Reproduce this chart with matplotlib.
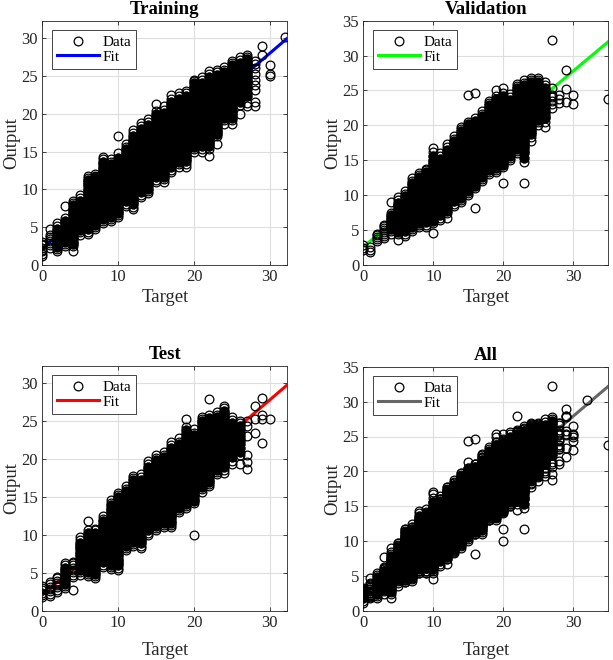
import numpy as np
import matplotlib
matplotlib.use('Agg')
import matplotlib.pyplot as plt

plt.rcParams['font.family'] = ['Liberation Serif', 'DejaVu Serif']

# network outputs for every integer target (list index = target value)
train_out = [
    "1.2 1.5 1.8 2.0 2.3 2.6 2.8 3.1",
    "2.3 2.6 2.9 3.2 3.4 3.7 4.0 4.7",
    "1.8 2.1 2.4 2.7 3.0 3.3 3.6 3.9 4.2 4.5 4.8 5.1 5.5",
    "2.5 2.8 3.1 3.4 3.7 4.0 4.3 4.6 4.9 5.2 5.5 5.8 6.2 7.8",
    "1.9 2.5 2.8 3.1 3.4 3.7 4.0 4.3 4.6 4.9 5.2 5.5 5.8 6.1 6.4 6.7 7.0 7.3 7.6 7.9 8.2 8.5",
    "4.0 4.3 4.6 4.9 5.2 5.5 5.8 6.1 6.4 6.7 7.0 7.3 7.6 7.9 8.2 8.5 8.8 9.2",
    "4.1 4.4 4.7 5.0 5.3 5.6 5.9 6.2 6.5 6.8 7.1 7.4 7.7 8.0 8.3 8.6 8.9 9.2 9.5 9.8 10.1 10.4 10.7 11.0 11.3 11.5 11.8",
    "4.7 5.0 5.3 5.6 5.9 6.2 6.5 6.8 7.1 7.4 7.7 8.0 8.3 8.6 8.9 9.2 9.5 9.8 10.1 10.4 10.7 11.0 11.3 11.6 11.8 12.0",
    "5.5 5.8 6.1 6.4 6.7 7.0 7.3 7.6 7.9 8.2 8.5 8.8 9.1 9.4 9.7 10.0 10.3 10.6 10.9 11.2 11.5 11.8 12.1 12.4 12.7 13.0 13.3 13.6 14.0 14.3",
    "5.8 6.1 6.4 6.7 7.0 7.3 7.6 7.9 8.2 8.5 8.8 9.1 9.4 9.7 10.0 10.3 10.6 10.9 11.2 11.5 11.8 12.1 12.4 12.7 13.0 13.3 13.6 14.0",
    "6.3 6.6 6.9 7.2 7.5 7.8 8.1 8.4 8.7 9.0 9.3 9.6 9.9 10.2 10.5 10.8 11.1 11.4 11.7 12.0 12.3 12.6 12.9 13.2 13.5 13.8 14.1 14.8 17.0",
    "7.8 8.1 8.4 8.7 9.0 9.3 9.6 9.9 10.2 10.5 10.8 11.1 11.4 11.7 12.0 12.3 12.6 12.9 13.2 13.5 13.8 14.1 14.4 14.7 15.0 15.3 15.6 16.0",
    "7.4 7.7 8.0 8.3 8.6 8.9 9.2 9.5 9.8 10.1 10.4 10.7 11.0 11.3 11.6 11.9 12.2 12.5 12.8 13.1 13.4 13.7 14.0 14.3 14.6 14.9 15.2 15.5 15.8 16.1 16.4 16.7 17.0 17.4 17.8",
    "9.0 9.3 9.6 9.9 10.2 10.5 10.8 11.1 11.4 11.7 12.0 12.3 12.6 12.9 13.2 13.5 13.8 14.1 14.4 14.7 15.0 15.3 15.6 15.9 16.2 16.5 16.8 17.1 17.4 17.7 18.0 18.4 18.8",
    "9.5 9.8 10.1 10.4 10.7 11.0 11.3 11.6 11.9 12.2 12.5 12.8 13.1 13.4 13.7 14.0 14.3 14.6 14.9 15.2 15.5 15.8 16.1 16.4 16.7 17.0 17.3 17.6 17.9 18.2 18.5 18.9 19.3",
    "11.0 11.3 11.6 11.9 12.2 12.5 12.8 13.1 13.4 13.7 14.0 14.3 14.6 14.9 15.2 15.5 15.8 16.1 16.4 16.7 17.0 17.3 17.6 17.9 18.2 18.5 18.8 19.1 19.4 19.7 20.0 20.4 21.3",
    "11.0 11.4 11.7 12.0 12.3 12.6 12.9 13.2 13.5 13.8 14.1 14.4 14.7 15.0 15.3 15.6 15.9 16.2 16.5 16.8 17.1 17.4 17.7 18.0 18.3 18.6 18.9 19.2 19.5 19.8 20.1 20.5 21.0",
    "12.3 12.6 12.9 13.2 13.5 13.8 14.1 14.4 14.7 15.0 15.3 15.6 15.9 16.2 16.5 16.8 17.1 17.4 17.7 18.0 18.3 18.6 18.9 19.2 19.5 19.8 20.1 20.4 20.7 21.0 21.3 21.6 22.0 22.5",
    "13.0 13.3 13.6 13.9 14.2 14.5 14.8 15.1 15.4 15.7 16.0 16.3 16.6 16.9 17.2 17.5 17.8 18.1 18.4 18.7 19.0 19.3 19.6 19.9 20.2 20.5 20.8 21.1 21.4 21.7 22.0 22.4 22.8",
    "13.0 13.4 13.7 14.0 14.3 14.6 14.9 15.2 15.5 15.8 16.1 16.4 16.7 17.0 17.3 17.6 17.9 18.2 18.5 18.8 19.1 19.4 19.7 20.0 20.3 20.6 20.9 21.2 21.5 21.8 22.1 22.4 22.7 23.0",
    "15.0 15.3 15.6 15.9 16.2 16.5 16.8 17.1 17.4 17.7 18.0 18.3 18.6 18.9 19.2 19.5 19.8 20.1 20.4 20.7 21.0 21.3 21.6 21.9 22.2 22.5 22.8 23.1 23.4 23.7 24.0 24.3 24.5",
    "15.0 15.4 15.7 16.0 16.3 16.6 16.9 17.2 17.5 17.8 18.1 18.4 18.7 19.0 19.3 19.6 19.9 20.2 20.5 20.8 21.1 21.4 21.7 22.0 22.3 22.6 22.9 23.2 23.5 23.8 24.1 24.5 24.8",
    "14.4 15.3 15.7 16.0 16.3 16.6 16.9 17.2 17.5 17.8 18.1 18.4 18.7 19.0 19.3 19.6 19.9 20.2 20.5 20.8 21.1 21.4 21.7 22.0 22.3 22.6 22.9 23.2 23.5 23.8 24.1 24.4 24.8 25.2 25.6",
    "16.0 17.0 17.3 17.6 17.9 18.2 18.5 18.8 19.1 19.4 19.7 20.0 20.3 20.6 20.9 21.2 21.5 21.8 22.1 22.4 22.7 23.0 23.3 23.6 23.9 24.2 24.5 24.8 25.1 25.5 25.8",
    "18.7 19.2 19.5 19.8 20.1 20.4 20.7 21.0 21.3 21.6 21.9 22.2 22.5 22.8 23.1 23.4 23.7 24.0 24.3 24.6 24.9 25.2 25.5 25.8 26.2",
    "18.6 19.2 19.5 19.8 20.1 20.4 20.7 21.0 21.3 21.6 21.9 22.2 22.5 22.8 23.1 23.4 23.7 24.0 24.3 24.6 24.9 25.2 25.5 25.8 26.1 26.4 26.7 27.0",
    "20.0 21.2 21.6 21.9 22.2 22.5 22.8 23.1 23.4 23.7 24.0 24.3 24.6 24.9 25.2 25.5 25.8 26.1 26.4 26.7 27.1 27.5",
    "21.0 21.4 22.3 22.8 23.3 23.6 23.9 24.2 24.5 24.8 25.1 25.4 25.7 26.0 26.3 26.6 26.9 27.2 27.5 27.8",
    "21.0 21.5 23.2 23.8 24.5 25.2 26.0 26.6 27.0",
    "27.8 29.0",
    "25.0 25.2 26.5",
    "",
    "30.2",
]

val_out = [
    "2.2 2.5 2.9",
    "1.8 2.2 2.6",
    "3.4 3.7 4.0 4.3 4.5",
    "3.8 4.1 4.4 4.7 5.0 5.3 5.6 5.8",
    "4.5 4.8 5.1 5.4 5.7 6.0 6.3 6.6 6.9 7.2 7.5 9.0",
    "3.6 4.4 4.7 5.0 5.3 5.6 5.9 6.2 6.5 6.8 7.1 7.4 7.7 8.0 8.3 8.6 8.9 9.3 9.8",
    "4.2 4.5 4.8 5.1 5.4 5.7 6.0 6.3 6.6 6.9 7.2 7.5 7.8 8.1 8.4 8.7 9.0 9.3 9.6 9.9 10.2 10.6",
    "4.8 5.1 5.4 5.7 6.0 6.3 6.6 6.9 7.2 7.5 7.8 8.1 8.4 8.7 9.0 9.3 9.6 9.9 10.2 10.5 10.8 11.1 11.4 11.7 12.0 12.5",
    "5.4 5.7 6.0 6.3 6.6 6.9 7.2 7.5 7.8 8.1 8.4 8.7 9.0 9.3 9.6 9.9 10.2 10.5 10.8 11.1 11.4 11.7 12.0 12.3 12.6 12.9 13.2",
    "5.5 5.8 6.1 6.4 6.7 7.0 7.3 7.6 7.9 8.2 8.5 8.8 9.1 9.4 9.7 10.0 10.3 10.6 10.9 11.2 11.5 11.8 12.1 12.4 12.7 13.0 13.3 13.6 13.8",
    "4.6 6.0 6.3 6.6 6.9 7.2 7.5 7.8 8.1 8.4 8.7 9.0 9.3 9.6 9.9 10.2 10.5 10.8 11.1 11.4 11.7 12.0 12.3 12.6 12.9 13.2 13.5 13.8 14.1 14.4 14.7 15.0 15.6 16.2 16.8",
    "6.5 6.8 7.1 7.4 7.7 8.0 8.3 8.6 8.9 9.2 9.5 9.8 10.1 10.4 10.7 11.0 11.3 11.6 11.9 12.2 12.5 12.8 13.1 13.4 13.7 14.0 14.3 14.6 14.9 15.2 15.6 16.0",
    "6.8 7.5 7.8 8.1 8.4 8.7 9.0 9.3 9.6 9.9 10.2 10.5 10.8 11.1 11.4 11.7 12.0 12.3 12.6 12.9 13.2 13.5 13.8 14.1 14.4 14.7 15.0 15.3 15.6 15.9 16.2 16.5 16.9 17.3",
    "8.5 8.8 9.1 9.4 9.7 10.0 10.3 10.6 10.9 11.2 11.5 11.8 12.1 12.4 12.7 13.0 13.3 13.6 13.9 14.2 14.5 14.8 15.1 15.4 15.7 16.0 16.3 16.6 16.9 17.2 17.5 17.8 18.1 18.5",
    "9.0 9.3 9.6 9.9 10.2 10.5 10.8 11.1 11.4 11.7 12.0 12.3 12.6 12.9 13.2 13.5 13.8 14.1 14.4 14.7 15.0 15.3 15.6 15.9 16.2 16.5 16.8 17.1 17.4 17.7 18.0 18.3 18.6 18.9 19.2 19.5 19.8",
    "10.0 10.3 10.6 10.9 11.2 11.5 11.8 12.1 12.4 12.7 13.0 13.3 13.6 13.9 14.2 14.5 14.8 15.1 15.4 15.7 16.0 16.3 16.6 16.9 17.2 17.5 17.8 18.1 18.4 18.7 19.0 19.3 19.6 19.9 20.2 20.5 24.3",
    "8.2 11.0 11.3 11.6 11.9 12.2 12.5 12.8 13.1 13.4 13.7 14.0 14.3 14.6 14.9 15.2 15.5 15.8 16.1 16.4 16.7 17.0 17.3 17.6 17.9 18.2 18.5 18.8 19.1 19.4 19.7 20.0 20.3 20.6 21.0 24.6",
    "12.0 12.3 12.6 12.9 13.2 13.5 13.8 14.1 14.4 14.7 15.0 15.3 15.6 15.9 16.2 16.5 16.8 17.1 17.4 17.7 18.0 18.3 18.6 18.9 19.2 19.5 19.8 20.1 20.4 20.7 21.0 21.3 21.6 22.0",
    "13.0 13.3 13.6 13.9 14.2 14.5 14.8 15.1 15.4 15.7 16.0 16.3 16.6 16.9 17.2 17.5 17.8 18.1 18.4 18.7 19.0 19.3 19.6 19.9 20.2 20.5 20.8 21.1 21.4 21.7 22.0 22.3 22.6 22.9 23.2 23.5",
    "13.3 13.6 13.9 14.2 14.5 14.8 15.1 15.4 15.7 16.0 16.3 16.6 16.9 17.2 17.5 17.8 18.1 18.4 18.7 19.0 19.3 19.6 19.9 20.2 20.5 20.8 21.1 21.4 21.7 22.0 22.3 22.6 22.9 23.2 23.5 23.8 24.2 25.0",
    "11.7 14.0 14.3 14.6 14.9 15.2 15.5 15.8 16.1 16.4 16.7 17.0 17.3 17.6 17.9 18.2 18.5 18.8 19.1 19.4 19.7 20.0 20.3 20.6 20.9 21.2 21.5 21.8 22.1 22.4 22.7 23.0 23.3 23.6 23.9 24.2 24.6 25.4",
    "15.0 15.3 15.6 15.9 16.2 16.5 16.8 17.1 17.4 17.7 18.0 18.3 18.6 18.9 19.2 19.5 19.8 20.1 20.4 20.7 21.0 21.3 21.6 21.9 22.2 22.5 22.8 23.1 23.4 23.7 24.0 24.5",
    "16.0 16.3 16.6 16.9 17.2 17.5 17.8 18.1 18.4 18.7 19.0 19.3 19.6 19.9 20.2 20.5 20.8 21.1 21.4 21.7 22.0 22.3 22.6 22.9 23.2 23.5 23.8 24.1 24.4 24.7 25.0 25.3 25.6 26.0",
    "11.8 14.7 15.3 16.0 16.4 16.7 17.0 17.3 17.6 17.9 18.2 18.5 18.8 19.1 19.4 19.7 20.0 20.3 20.6 20.9 21.2 21.5 21.8 22.1 22.4 22.7 23.0 23.3 23.6 23.9 24.2 24.5 24.8 25.1 25.4 25.8 26.1 26.5",
    "17.8 18.3 18.7 19.0 19.3 19.6 19.9 20.2 20.5 20.8 21.1 21.4 21.7 22.0 22.3 22.6 22.9 23.2 23.5 23.8 24.1 24.4 24.7 25.0 25.3 25.6 25.9 26.2 26.5 26.8",
    "20.0 20.5 20.8 21.1 21.4 21.7 22.0 22.3 22.6 22.9 23.2 23.5 23.8 24.1 24.4 24.7 25.0 25.3 25.6 25.9 26.2 26.5 26.8",
    "19.8 20.5 21.0 21.4 21.8 22.2 22.6 23.0 23.4 23.8 24.2 24.6 25.0 25.4 25.8 26.2",
    "22.5 23.0 23.5 24.0 24.4 25.3 32.3",
    "23.2 23.8 24.3",
    "23.4 25.2 27.9",
    "23.0 24.3",
    "", "", "", "",
    "23.8",
]

test_out = [
    "1.8 2.1 2.4 2.7 3.0 3.3",
    "2.0 2.3 2.6 2.9 3.2 3.5 3.8",
    "2.5 2.8 3.1 3.4 3.7 4.0 4.3 4.5",
    "3.0 3.3 3.6 3.9 4.2 4.5 4.8 5.1 5.4 5.7 6.0 6.3",
    "2.7 4.5 4.8 5.1 5.4 5.7 6.0 6.3 6.5",
    "4.8 5.1 5.4 5.7 6.0 6.3 6.6 6.9 7.2 7.5 7.8 8.1 8.4 8.7 9.0 9.4 9.8",
    "4.6 4.9 5.2 5.5 5.8 6.1 6.4 6.7 7.0 7.3 7.6 7.9 8.2 8.5 8.8 9.1 9.4 9.7 10.0 10.3 10.6 11.8",
    "4.3 4.6 4.9 5.2 5.5 5.8 6.1 6.4 6.7 7.0 7.3 7.6 7.9 8.2 8.5 8.8 9.1 9.4 9.7 10.0 10.3 10.6 10.8",
    "5.8 6.1 6.4 6.7 7.0 7.3 7.6 7.9 8.2 8.5 8.8 9.1 9.4 9.7 10.0 10.3 10.6 10.9 11.2 11.5 11.8 12.1 12.5",
    "5.5 5.8 6.1 6.4 6.7 7.0 7.3 7.6 7.9 8.2 8.5 8.8 9.1 9.4 9.7 10.0 10.3 10.6 10.9 11.2 11.5 11.8 12.1 12.4 12.7 13.0 13.3 13.6 13.9 14.2 14.6",
    "5.4 5.7 6.0 6.3 6.6 6.9 7.2 7.5 7.8 8.1 8.4 8.7 9.0 9.3 9.6 9.9 10.2 10.5 10.8 11.1 11.4 11.7 12.0 12.3 12.6 12.9 13.2 13.5 13.8 14.1 14.4 14.7 15.0 15.3 15.6",
    "8.0 8.3 8.6 8.9 9.2 9.5 9.8 10.1 10.4 10.7 11.0 11.3 11.6 11.9 12.2 12.5 12.8 13.1 13.4 13.7 14.0 14.3 14.6 14.9 15.2 15.5 15.8 16.1 16.5",
    "8.5 8.8 9.1 9.4 9.7 10.0 10.3 10.6 10.9 11.2 11.5 11.8 12.1 12.4 12.7 13.0 13.3 13.6 13.9 14.2 14.5 14.8 15.1 15.4 15.7 16.0 16.3 16.6 16.9 17.2 17.5 17.8",
    "8.3 8.6 8.9 9.2 9.5 9.8 10.1 10.4 10.7 11.0 11.3 11.6 11.9 12.2 12.5 12.8 13.1 13.4 13.7 14.0 14.3 14.6 14.9 15.2 15.5 15.8 16.1 16.4 16.7 17.0 17.3 17.6 18.0",
    "10.0 10.3 10.6 10.9 11.2 11.5 11.8 12.1 12.4 12.7 13.0 13.3 13.6 13.9 14.2 14.5 14.8 15.1 15.4 15.7 16.0 16.3 16.6 16.9 17.2 17.5 17.8 18.1 18.4 18.7 19.0 19.4 19.8",
    "10.6 10.9 11.2 11.5 11.8 12.1 12.4 12.7 13.0 13.3 13.6 13.9 14.2 14.5 14.8 15.1 15.4 15.7 16.0 16.3 16.6 16.9 17.2 17.5 17.8 18.1 18.4 18.7 19.0 19.3 19.6 19.9 20.2 20.5",
    "11.0 11.3 11.6 11.9 12.2 12.5 12.8 13.1 13.4 13.7 14.0 14.3 14.6 14.9 15.2 15.5 15.8 16.1 16.4 16.7 17.0 17.3 17.6 17.9 18.2 18.5 18.8 19.1 19.4 19.7 20.0 20.3 20.6 21.0",
    "11.0 11.3 11.6 11.9 12.2 12.5 12.8 13.1 13.4 13.7 14.0 14.3 14.6 14.9 15.2 15.5 15.8 16.1 16.4 16.7 17.0 17.3 17.6 17.9 18.2 18.5 18.8 19.1 19.4 19.7 20.0 20.3 20.6 20.9 21.2 21.5 21.9 22.3",
    "13.0 13.3 13.6 13.9 14.2 14.5 14.8 15.1 15.4 15.7 16.0 16.3 16.6 16.9 17.2 17.5 17.8 18.1 18.4 18.7 19.0 19.3 19.6 19.9 20.2 20.5 20.8 21.1 21.4 21.7 22.0 22.3 22.8",
    "13.5 13.8 14.1 14.4 14.7 15.0 15.3 15.6 15.9 16.2 16.5 16.8 17.1 17.4 17.7 18.0 18.3 18.6 18.9 19.2 19.5 19.8 20.1 20.4 20.7 21.0 21.3 21.6 21.9 22.2 22.5 22.8 23.1 23.4 23.8 24.2 25.3",
    "10.0 14.2 14.5 14.8 15.1 15.4 15.7 16.0 16.3 16.6 16.9 17.2 17.5 17.8 18.1 18.4 18.7 19.0 19.3 19.6 19.9 20.2 20.5 20.8 21.1 21.4 21.7 22.0 22.3 22.6 22.9 23.2 23.5 24.0",
    "15.7 16.0 16.3 16.6 16.9 17.2 17.5 17.8 18.1 18.4 18.7 19.0 19.3 19.6 19.9 20.2 20.5 20.8 21.1 21.4 21.7 22.0 22.3 22.6 22.9 23.2 23.5 23.8 24.1 24.4 24.7 25.0 25.3 25.6",
    "16.4 16.7 17.0 17.3 17.6 17.9 18.2 18.5 18.8 19.1 19.4 19.7 20.0 20.3 20.6 20.9 21.2 21.5 21.8 22.1 22.4 22.7 23.0 23.3 23.6 23.9 24.2 24.5 24.8 25.1 25.4 25.8 27.9",
    "18.0 18.3 18.6 18.9 19.2 19.5 19.8 20.1 20.4 20.7 21.0 21.3 21.6 21.9 22.2 22.5 22.8 23.1 23.4 23.7 24.0 24.3 24.6 24.9 25.2 25.5 25.8 26.2",
    "18.2 18.6 18.9 19.2 19.5 19.8 20.1 20.4 20.7 21.0 21.3 21.6 21.9 22.2 22.5 22.8 23.1 23.4 23.7 24.0 24.3 24.6 24.9 25.2 25.5 25.8 26.1 26.4 26.7 27.0",
    "19.3 19.8 20.3 20.8 21.2 21.5 21.8 22.1 22.4 22.7 23.0 23.3 23.6 23.9 24.2 24.5 24.8 25.1 25.5",
    "19.3 20.5 21.0 21.5 22.0 22.4 22.8 23.2 23.6 24.0 24.4 24.8 25.0",
    "18.7 19.6 20.6 23.1 24.4 25.0",
    "23.5 25.3 27.0",
    "22.1 25.3 25.8 28.0",
    "25.3",
]

titles = ['Training', 'Validation', 'Test', 'All']
fit_colors = ['#0000ff', '#00ff00', '#ff0000', '#666666']
# fit line (slope, intercept)
fit_coef = [(0.86, 2.2), (0.84, 2.6), (0.857, 2.1), (0.854, 2.3)]
limits = [32.3, 35, 32.3, 35]


def to_points(cols):
    # also flags the points buried inside a crowded column
    t, y, inner = [], [], []
    for k, s in enumerate(cols):
        vals = s.split()
        n = len(vals)
        for j, v in enumerate(vals):
            t.append(k)
            y.append(float(v))
            inner.append(n >= 10 and 2 <= j < n - 2)
    return np.array(t, float), np.array(y), np.array(inner)


sets = [to_points(train_out), to_points(val_out), to_points(test_out)]
sets.append(tuple(np.concatenate([s[i] for s in sets]) for i in range(3)))

fig = plt.figure(figsize=(6.13, 6.6), dpi=100)
W, H = 613, 660
# axes boxes in pixels: left, top, right, bottom
boxes = [(42.3, 20.7, 287.3, 265), (363.3, 20.7, 608.3, 265),
         (42.3, 365.7, 287.3, 611), (363.3, 366.7, 608.3, 611)]
xlabel_pads = [3, 3, 8, 8]
title_pads = [5, 5, 5, 5]

for i in range(4):
    l, t, r, b = boxes[i]
    ax = fig.add_axes([l / W, 1 - b / H, (r - l) / W, (b - t) / H])
    tt, yy, inner = sets[i]
    lim = limits[i]
    m, c = fit_coef[i]
    xs = np.array([0, lim])
    # thousands of overlapping rings look solid black in the crowded middle
    ax.plot(tt[inner], yy[inner], 'o', mfc='k', mec='k', ms=6.3, mew=0.9, zorder=3)
    ax.plot(tt, yy, 'o', mfc='none', mec='k', ms=6.3, mew=0.9, label='Data', zorder=3)
    ax.plot(xs, m * xs + c, '-', color=fit_colors[i], lw=2.2, label='Fit', zorder=2)
    ax.set_xlim(0, lim)
    ax.set_ylim(0, lim)
    ax.set_xticks([0, 10, 20, 30])
    ax.set_yticks(np.arange(0, lim + 0.01, 5))
    ax.grid(True, color='#dedede', lw=0.8, zorder=0)
    ax.set_axisbelow(True)
    ax.tick_params(direction='in', length=3, width=0.6, top=True, right=True,
                   labelsize=12, colors='#262626', pad=3)
    for s in ax.spines.values():
        s.set_color('#262626')
        s.set_linewidth(0.6)
    ax.set_title(titles[i], fontsize=13.5, fontweight='bold', pad=title_pads[i])
    ax.set_xlabel('Target', fontsize=13.5, labelpad=xlabel_pads[i], color='#262626')
    ax.set_ylabel('Output', fontsize=13.5, labelpad=1, color='#262626')
    leg = ax.legend(loc='upper left', fontsize=11, fancybox=False, framealpha=1,
                    edgecolor='#262626', handlelength=2.75, handletextpad=0.2,
                    borderaxespad=0.62, borderpad=0.35, labelspacing=0.05)
    leg.get_frame().set_linewidth(0.6)

fig.savefig('out.png', dpi=100)
